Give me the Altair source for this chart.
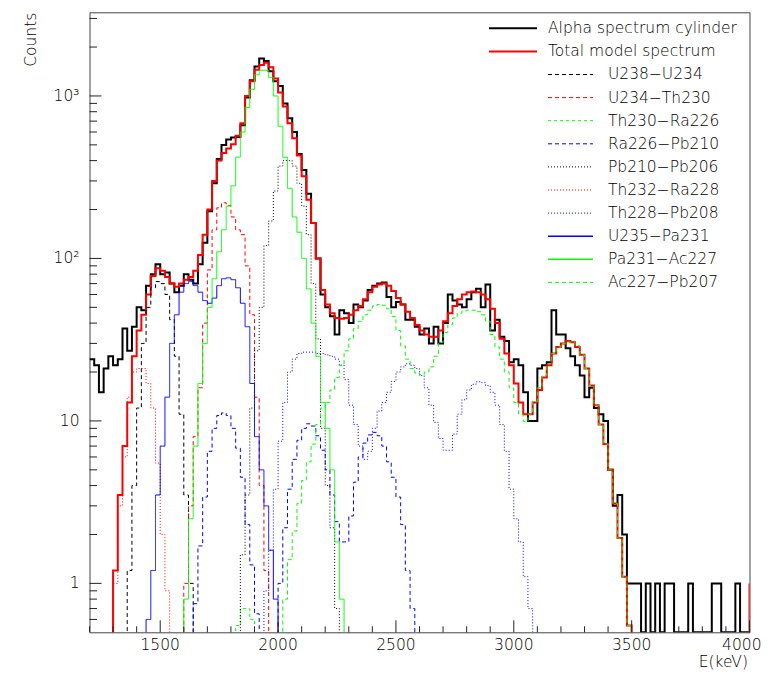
import altair as alt
import pandas as pd

BIN_KEV = 20
E_LO, E_HI = 1200, 4000
Y_LO, Y_HI = 0.5, 3273

# ---- measured spectrum: counts per 20 keV bin, first bin starts at 1200 keV
data_start = 1200
data_counts = [
    24, 22, 15, 21, 25, 22, 24, 37, 27, 38,
    50, 48, 68, 80, 92, 80, 82, 70, 62, 68,
    80, 74, 70, 92, 125, 195, 290, 410, 500, 540,
    555, 560, 660, 980, 1250, 1520, 1700, 1640, 1420, 1230,
    1150, 900, 730, 600, 440, 350, 250, 165, 100, 60,
    50, 44, 34, 48, 46, 40, 52, 50, 55, 64,
    68, 70, 71, 58, 50, 54, 52, 42, 42, 38,
    34, 37, 30, 38, 30, 40, 60, 55, 52, 50,
    56, 62, 65, 50, 69, 36, 42, 33, 31, 23,
    24, 22, 15, 10, 10, 21, 22, 23, 48, 34,
    34, 28, 25, 22, 19, 14, 16, 12, 11, 10,
    5, 3, 3.5, 2, 1, 1, 1, 0, 1, 0,
    1, 0, 1, 1, 0, 0, 0, 1, 0, 0,
    0, 0, 1, 1, 0, 0, 0, 1, 0, 0,
]

# ---- total model
total_start = 1260
total_model = [
    0.2, 0.45, 1.2, 3.5, 7, 13, 25, 36, 45, 60,
    78, 87, 84, 77, 70, 67, 70, 74, 77, 84,
    105, 140, 200, 300, 400, 445, 475, 505, 570, 680,
    1000, 1230, 1450, 1550, 1600, 1500, 1280, 1050, 860, 680,
    550, 430, 320, 230, 165, 100, 64, 52, 46, 43,
    42.5, 43, 45, 48, 51, 56, 62, 67, 69, 70,
    68, 63, 57, 52, 47, 43, 39, 36, 34, 33,
    33, 36, 41, 46, 51, 56, 60, 62, 62.5, 62,
    60, 56, 49, 40, 32, 26, 22, 17, 13, 11,
    11, 13, 15.5, 18.5, 22, 26, 28.5, 30, 31, 30.5,
    28.5, 25.5, 21, 16.5, 12.5, 9.5, 7.2, 5, 3.1, 1.9,
    1.1, 0.55, 0.3,
]
total_edge_low, total_edge_high = 0.3, 1.0   # stroke at the 4000 keV edge

# ---- model components (start = low edge of first 20 keV bin)
u238_u234_start = 1340
u238_u234 = [0.3, 1.2, 4, 12, 30, 50, 66, 72, 70, 60, 42, 25, 11, 3.5, 1.0, 0.3]

u234_th230_start = 1580
u234_th230 = [0.4, 1.0, 3, 8, 16, 40, 85, 150, 205, 220, 212, 180, 150, 140, 90,
              45, 14, 4, 1.2, 0.3]

th230_ra226_start = 1800
th230_ra226 = [0.3, 0.55, 0.7, 0.7, 0.6, 0.3]

ra226_pb210_start = 1620
ra226_pb210 = [0.4, 0.75, 1.7, 3.4, 6.5, 9, 10.8, 11.2, 10.8, 9,
               6.8, 4.5, 2.3, 1.3, 0.65, 0.3, 0.2, 0.25, 0.45, 1.0,
               2.2, 3.8, 5.8, 7.6, 9, 9.6, 9.3, 8.1, 6.6, 5,
               3.5, 2.4, 1.8, 1.8, 2.6, 4.2, 6, 7.3, 8.2, 8.5,
               8.1, 7, 5.6, 4.5, 3.4, 2.3, 1.2, 0.7, 0.35]

pb210_pb206_start = 1820
pb210_pb206 = [0.3, 1.5, 3.5, 12, 27, 50, 120, 170, 260, 370, 400, 400, 370, 290,
               210, 140, 70, 32, 9, 4, 2.2, 0.7, 0.2]

th232_ra228_start = 1280
th232_ra228 = [0.3, 1.0, 3, 6, 14, 20, 21, 21, 17, 12, 5.5, 2, 0.9, 0.3]

th228_pb208_start = 1920
th228_pb208 = [0.3, 0.9, 1.6, 3.8, 7.5, 13, 20, 24, 26, 26.5,
               26.5, 26.5, 26, 26, 25.5, 25, 24, 22, 18, 12.5,
               9.5, 7, 5.8, 6.5, 9, 11.5, 13, 15, 17.5, 20,
               21.5, 22.5, 22, 21, 19, 16, 12.5, 9.8, 7.8, 6.6,
               6.6, 8.3, 11, 13.5, 15.5, 16.8, 17.4, 17.2, 16.5, 15,
               12.5, 9.5, 6.5, 3.8, 2.5, 1.8, 1.1, 0.7, 0.4]

u235_pa231_start = 1420
u235_pa231 = [0.3, 0.6, 1.2, 3.5, 7, 14, 30, 45, 62, 70,
              72, 68, 62, 55, 53, 57, 68, 75, 76, 74,
              66, 53, 38, 17, 8, 5, 3, 1.6, 0.8, 0.3]

pa231_ac227_start = 1580
pa231_ac227 = [0.3, 0.8, 2.5, 7, 17, 30, 50, 75, 110, 150,
               210, 280, 420, 600, 850, 1100, 1350, 1440, 1440, 1300,
               1000, 650, 420, 270, 180, 145, 100, 65, 40, 25,
               13, 9, 5, 1.8, 0.8, 0.3]

ac227_pb207_start = 2000
ac227_pb207 = [0.4, 0.8, 1.4, 2.1, 3.1, 4.3, 5.6, 7.2, 9.5, 12,
               13, 15.5, 18.5, 22, 27, 32, 37, 41, 45, 48,
               51, 52, 51.5, 49, 44, 36, 29, 24, 21, 19.7,
               19.2, 20, 21.5, 25, 30.5, 35, 39, 43, 46, 47.5,
               48, 48, 47, 45, 41, 34, 28.5, 24, 20, 16,
               13, 11, 9.9, 11, 13.2, 16, 19, 22.5, 26, 28.5,
               30, 30.6, 30.5, 29, 25.5, 21, 16.5, 12.5, 9.5, 7.2,
               5, 3.1, 1.9, 1.1, 0.55, 0.3]

# ---- legend / styles
legend_names = ["Alpha spectrum cylinder", "Total model spectrum",
                "U238\u2212U234", "U234\u2212Th230", "Th230\u2212Ra226", "Ra226\u2212Pb210",
                "Pb210\u2212Pb206", "Th232\u2212Ra228", "Th228\u2212Pb208", "U235\u2212Pa231",
                "Pa231\u2212Ac227", "Ac227\u2212Pb207"]
legend_colors = ["#000000", "#ff0000", "#000000", "#ff0000", "#00ff00", "#0000ff",
                 "#000000", "#ff0000", "#0000ff", "#0000ff", "#00ff00", "#00ff00"]
legend_dashes = [[1, 0], [1, 0], [4, 3], [4, 3], [3, 3], [4, 3],
                 [1, 2], [1, 2], [1, 2], [1, 0], [1, 0], [4, 3]]

# ticks and tick labels
x_major = [1500, 2000, 2500, 3000, 3500, 4000]
x_labels = ["1500", "2000", "2500", "3000", "3500", "4000"]
x_minor = [1200, 1300, 1400, 1600, 1700, 1800, 1900, 2100, 2200, 2300, 2400,
           2600, 2700, 2800, 2900, 3100, 3200, 3300, 3400, 3600, 3700, 3800, 3900]
y_major = [1, 10, 100, 1000]
y_labels = ["1\u00a0", "10\u00a0", "10\u00b2", "10\u00b3"]
y_minor = [0.6, 0.7, 0.8, 0.9, 2, 3, 4, 5, 6, 7, 8, 9, 20, 30, 40, 50, 60, 70, 80, 90,
           200, 300, 400, 500, 600, 700, 800, 900, 2000, 3000]

FONT = "DejaVu Sans"
FS = 15.5
FW = 200
TXT = "#000000"
W, H = 660, 620


def steps(start, values):
    e = [start + BIN_KEV * i for i in range(len(values))] + [start + BIN_KEV * len(values)]
    v = list(values) + [values[-1]]
    return e, v


e, v = steps(data_start, data_counts)
black_df = pd.DataFrame({"e": e, "v": v, "i": range(len(e))})

e, v = steps(total_start, total_model)
e += [E_HI, E_HI]
v += [total_edge_low, total_edge_high]
red_df = pd.DataFrame({"e": e, "v": v, "i": range(len(e))})

comp_series = [
    (legend_names[2], u238_u234_start, u238_u234),
    (legend_names[3], u234_th230_start, u234_th230),
    (legend_names[4], th230_ra226_start, th230_ra226),
    (legend_names[5], ra226_pb210_start, ra226_pb210),
    (legend_names[6], pb210_pb206_start, pb210_pb206),
    (legend_names[7], th232_ra228_start, th232_ra228),
    (legend_names[8], th228_pb208_start, th228_pb208),
    (legend_names[9], u235_pa231_start, u235_pa231),
    (legend_names[10], pa231_ac227_start, pa231_ac227),
    (legend_names[11], ac227_pb207_start, ac227_pb207),
]
frames = []
for name, s, vals in comp_series:
    ee, vv = steps(s, vals)
    frames.append(pd.DataFrame({"e": ee, "v": vv, "i": range(len(ee)), "name": name}))
comp_df = pd.concat(frames, ignore_index=True)

xscale = alt.Scale(domain=[E_LO, E_HI], nice=False, zero=False)
yscale = alt.Scale(type="log", domain=[Y_LO, Y_HI], nice=False)
cscale = alt.Scale(domain=legend_names, range=legend_colors)
dscale = alt.Scale(domain=legend_names, range=legend_dashes)

X = alt.X("e:Q", scale=xscale, axis=None)

black = alt.Chart(black_df).mark_line(
    interpolate="step-after", clip=True, color="#000000", strokeWidth=2, strokeJoin="miter"
).transform_calculate(vp="max(datum.v, 0.5)").encode(
    x=X, y=alt.Y("vp:Q", scale=yscale, axis=None), order="i:Q",
)

red = alt.Chart(red_df).mark_line(
    interpolate="step-after", clip=True, color="#ff0000", strokeWidth=2, strokeJoin="miter"
).encode(x=X, y=alt.Y("v:Q", scale=yscale, axis=None), order="i:Q")

comps = alt.Chart(comp_df).mark_line(
    interpolate="step-after", clip=True, strokeWidth=1, strokeJoin="miter"
).encode(
    x=X,
    y=alt.Y("v:Q", scale=yscale, axis=None),
    color=alt.Color("name:N", scale=cscale, legend=None),
    strokeDash=alt.StrokeDash("name:N", scale=dscale, legend=None),
    order="i:Q",
)

# ticks drawn inside the frame
TICK = "#222222"
xmaj = alt.Chart(pd.DataFrame({"t": x_major})).mark_rule(color=TICK, strokeWidth=1).encode(
    x=alt.X("t:Q", scale=xscale, axis=None), y=alt.value(H), y2=alt.value(H - 12))
xmin = alt.Chart(pd.DataFrame({"t": x_minor})).mark_rule(color=TICK, strokeWidth=1).encode(
    x=alt.X("t:Q", scale=xscale, axis=None), y=alt.value(H), y2=alt.value(H - 6))
ymaj = alt.Chart(pd.DataFrame({"t": y_major})).mark_rule(color=TICK, strokeWidth=1).encode(
    y=alt.Y("t:Q", scale=yscale, axis=None), x=alt.value(0), x2=alt.value(12))
ymin = alt.Chart(pd.DataFrame({"t": y_minor})).mark_rule(color=TICK, strokeWidth=1).encode(
    y=alt.Y("t:Q", scale=yscale, axis=None), x=alt.value(0), x2=alt.value(7.5))

# tick labels
xlab_df = pd.DataFrame({"t": x_major[:-1], "s": x_labels[:-1]})
xlab = alt.Chart(xlab_df).mark_text(
    align="center", baseline="top", font=FONT, fontSize=FS, fontWeight=FW, color=TXT
).encode(x=alt.X("t:Q", scale=xscale, axis=None), y=alt.value(H + 6), text="s:N")
xlab_last = alt.Chart(pd.DataFrame({"t": x_major[-1:], "s": x_labels[-1:]})).mark_text(
    align="right", baseline="top", dx=12, font=FONT, fontSize=FS, fontWeight=FW, color=TXT
).encode(x=alt.X("t:Q", scale=xscale, axis=None), y=alt.value(H + 6), text="s:N")
ylab = alt.Chart(pd.DataFrame({"t": y_major, "s": y_labels})).mark_text(
    align="right", baseline="middle", font=FONT, fontSize=FS, fontWeight=FW, color=TXT
).encode(y=alt.Y("t:Q", scale=yscale, axis=None), x=alt.value(-10), text="s:N")

# legend (manual, ROOT-like)
ROW0, ROWSTEP = 16.0, 23.1
leg_rows = []
for k, name in enumerate(legend_names):
    first = k < 2
    leg_rows.append({
        "name": name,
        "ly": ROW0 + ROWSTEP * k,
        "x1": 399.5 if first else 458.5,
        "x2": 447.5 if first else 503.5,
        "tx": 458.5 if first else 518.5,
        "w": 2 if first else (1.5 if legend_dashes[k] == [1, 0] else 1),
    })
leg_df = pd.DataFrame(leg_rows)

leg_lines = alt.Chart(leg_df).mark_rule().encode(
    x=alt.X("x1:Q", scale=None, axis=None), x2="x2:Q",
    y=alt.Y("ly:Q", scale=None, axis=None),
    color=alt.Color("name:N", scale=cscale, legend=None),
    strokeDash=alt.StrokeDash("name:N", scale=dscale, legend=None),
    strokeWidth=alt.StrokeWidth("w:Q", scale=None, legend=None),
)
leg_text = alt.Chart(leg_df).mark_text(
    align="left", baseline="middle", font=FONT, fontSize=FS, fontWeight=FW, color=TXT
).encode(
    x=alt.X("tx:Q", scale=None, axis=None),
    y=alt.Y("ly:Q", scale=None, axis=None),
    text="name:N",
)

ytitle = alt.Chart(pd.DataFrame({"s": ["Counts"]})).mark_text(
    align="right", baseline="middle", angle=270, font=FONT, fontSize=FS, fontWeight=FW, color=TXT
).encode(x=alt.value(-58.5), y=alt.value(0.4), text="s:N")
xtitle = alt.Chart(pd.DataFrame({"s": ["E(keV)"]})).mark_text(
    align="right", baseline="middle", font=FONT, fontSize=FS, fontWeight=FW, color=TXT
).encode(x=alt.value(658.5), y=alt.value(649.5), text="s:N")

chart = alt.layer(
    black, red, comps, xmaj, xmin, ymaj, ymin, xlab, xlab_last, ylab,
    leg_lines, leg_text, ytitle, xtitle
).properties(
    width=W, height=H,
    padding={"left": 81.5, "top": 4.3, "right": 12.5, "bottom": 37.5},
    autosize=alt.AutoSizeParams(type="none"),
    background="white",
).configure_view(stroke="#444444", strokeWidth=1)

chart.save("out.html", embed_options={"renderer": "svg", "actions": False})
